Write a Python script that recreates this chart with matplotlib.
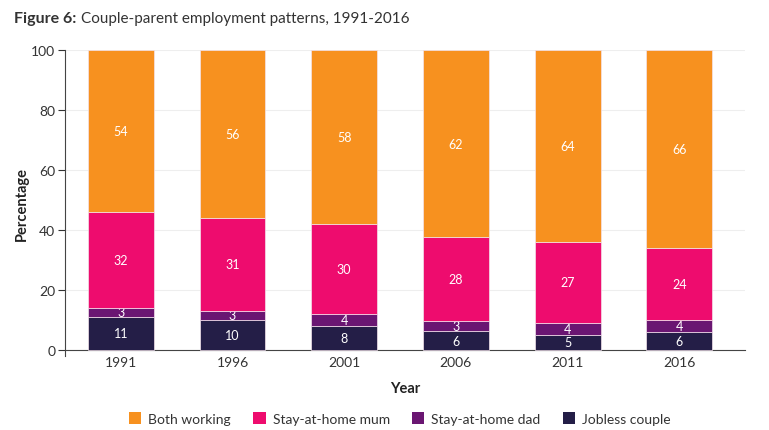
import numpy as np
from matplotlib import pyplot as plt
from matplotlib.patches import Patch

plt.rcParams['font.family'] = ['Lato', 'DejaVu Sans']

#======+
# Data |
#======+
years = ['1991', '1996', '2001', '2006', '2011', '2016']
jobless = [11, 10, 8, 6.2, 5, 6]
dad = [3, 3, 4, 3.3, 4, 4]
mum = [32, 31, 30, 28.1, 27, 24]
both = [54, 56, 58, 62.4, 64, 66]

series = ['Jobless couple', 'Stay-at-home dad', 'Stay-at-home mum', 'Both working']
colors = ['#241E47', '#6A1672', '#EE0C6E', '#F7911F']

#================+
# Graph Plotting |
#================+
fig = plt.figure(figsize=(7.69, 4.31), dpi=100)
ax = fig.add_axes([0.0845, 0.1717, 0.8845, 0.71])

x = np.arange(len(years))
bottom = np.zeros(len(years))
for name, vals, col in zip(series, [jobless, dad, mum, both], colors):
    vals = np.array(vals, dtype=float)
    bars = ax.bar(x, vals, bottom=bottom, width=0.59, color=col,
                  edgecolor='#f3e3ec', linewidth=0.5, label=name, zorder=3)
    labels = [str(int(round(v))) for v in vals]
    ax.bar_label(bars, labels=labels, label_type='center', color='white',
                 fontsize=9)
    bottom += vals

ax.set_xlim(-0.5, 5.59)
ax.set_ylim(-2, 100)
ax.set_xticks(x)
ax.set_xticklabels(years)
ax.set_yticks(np.arange(0, 101, 20))
ax.tick_params(axis='x', length=0, labelsize=10, colors='#333333', pad=4)
ax.tick_params(axis='y', length=5, labelsize=10, colors='#333333', pad=2)

for s in ['top', 'right']:
    ax.spines[s].set_visible(False)
ax.spines['bottom'].set_position(('data', 0))
ax.spines['bottom'].set_color('#444444')
ax.spines['left'].set_color('#444444')
ax.yaxis.grid(True, color='#eeeeee', linewidth=0.8, zorder=0)
ax.set_axisbelow(True)

ax.set_ylabel('Percentage', fontweight='bold', fontsize=10.5, color='#222222', labelpad=1.5)
ax.set_xlabel('Year', fontweight='bold', fontsize=10.5, color='#222222', labelpad=10)

fig.text(0.018, 0.955, 'Figure 6:', fontweight='bold', fontsize=11.5, color='#333333',
         va='center', ha='left')
fig.text(0.105, 0.955, 'Couple-parent employment patterns, 1991-2016', fontsize=11,
         color='#333333', va='center', ha='left')

handles = [Patch(facecolor=c, label=n) for n, c in zip(series[::-1], colors[::-1])]
fig.legend(handles=handles, loc='center', bbox_to_anchor=(0.52, 0.027), ncol=4,
           frameon=False, fontsize=10, handlelength=0.9, handleheight=0.9,
           handletextpad=0.5, columnspacing=1.6, labelcolor='#333333')

plt.savefig('out.png', dpi=100)
